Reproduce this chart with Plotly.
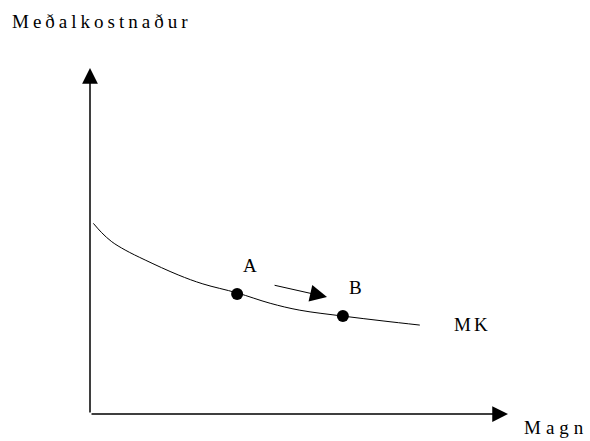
import plotly.graph_objects as go

# average cost curve (MK)
magn = [0.08, 0.28, 0.52, 0.84, 1.32, 2.11, 2.70, 3.52, 4.31, 5.02, 6.05, 7.01, 7.89]
kostn = [5.51, 5.24, 4.98, 4.74, 4.45, 4.02, 3.76, 3.50, 3.20, 3.00, 2.83, 2.69, 2.57]

punkt_nafn = ["A", "B"]
punkt_x = [3.52, 6.05]
punkt_y = [3.47, 2.83]

# movement arrow from A towards B
or_fra = (4.38, 3.73)
or_til = (5.67, 3.38)

FONT = "Liberation Serif"


def spaced(txt, px):
    return '<span style="letter-spacing:%dpx">%s</span>' % (px, txt)


fig = go.Figure()
fig.add_trace(go.Scatter(
    x=magn, y=kostn, mode="lines",
    line=dict(color="black", width=1, shape="spline", smoothing=1),
    hoverinfo="skip",
))
fig.add_trace(go.Scatter(
    x=punkt_x, y=punkt_y, mode="markers",
    marker=dict(color="black", size=12),
    hoverinfo="skip",
))

annotations = [
    # axes with arrow heads
    dict(x=10, y=0, ax=0, ay=0, axref="x", ayref="y", text="",
         showarrow=True, arrowhead=2, arrowsize=2.1, arrowwidth=1.5, arrowcolor="black"),
    dict(x=0, y=10, ax=0, ay=0, axref="x", ayref="y", text="",
         showarrow=True, arrowhead=2, arrowsize=2.1, arrowwidth=1.5, arrowcolor="black"),
    # A -> B
    dict(x=or_til[0], y=or_til[1], ax=or_fra[0], ay=or_fra[1], axref="x", ayref="y",
         text="", showarrow=True, arrowhead=2, arrowsize=3.4, arrowwidth=1, arrowcolor="black"),
]
for nafn, lx, ly in zip(punkt_nafn, [3.83, 6.34], [4.28, 3.67]):
    annotations.append(dict(x=lx, y=ly, text=nafn, showarrow=False, font=dict(size=19)))

annotations += [
    dict(x=8.66, y=2.60, text=spaced("MK", 3), showarrow=False, xanchor="left",
         font=dict(size=19)),
    dict(x=1.033, y=-0.040, xref="paper", yref="paper", text=spaced("Magn", 5),
         showarrow=False, xanchor="left", yanchor="middle", font=dict(size=19)),
    dict(x=-0.191, y=1.133, xref="paper", yref="paper", text=spaced("Meðalkostnaður", 4),
         showarrow=False, xanchor="left", yanchor="middle", font=dict(size=19)),
]

fig.update_layout(
    width=590, height=441,
    margin=dict(l=90, r=82, t=68, b=27),
    paper_bgcolor="white", plot_bgcolor="white",
    showlegend=False,
    font=dict(family=FONT, color="black"),
    xaxis=dict(range=[0, 10], visible=False, fixedrange=True),
    yaxis=dict(range=[0, 10], visible=False, fixedrange=True),
    annotations=annotations,
)

fig.write_html("out.html", config=dict(displayModeBar=False),
               post_script="document.body.style.margin='0';")
